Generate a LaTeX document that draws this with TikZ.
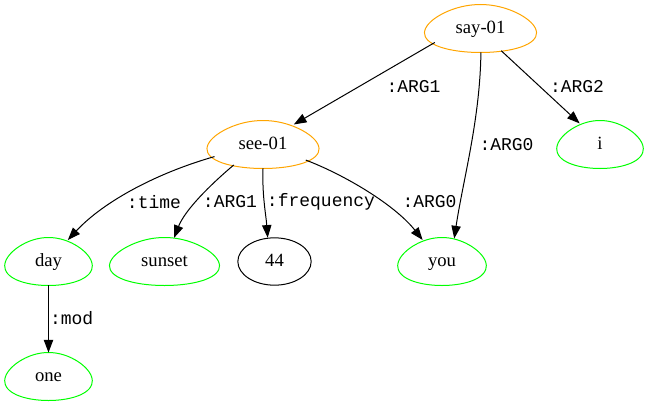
\documentclass[tikz,border=0pt]{standalone}
\usepackage{fontspec}
\setmainfont{Liberation Serif}
\newfontfamily\labfont{Liberation Mono}
\usetikzlibrary{arrows.meta,shapes.geometric}
\definecolor{amrorange}{RGB}{255,165,0}
\definecolor{amrgreen}{RGB}{0,255,0}
\newcommand\eggline[4]{\draw[#2, line width=0.75pt, shift={(#1.center)}] plot[smooth cycle, domain=0:350, samples=36, variable=\t] ({#3*cos(\t)*(1-0.2*sin(\t))},{-#4*sin(\t)});}
\begin{document}
\begin{tikzpicture}[x=0.75pt,y=-0.75pt,
  nd/.style={ellipse, inner sep=0pt, minimum height=35.5pt, text height=9.5pt, text depth=2.5pt, font=\fontsize{14}{16}\selectfont},
  lab/.style={inner sep=0pt, font=\labfont\fontsize{13.5}{15}\selectfont},
  edge/.style={line width=0.75pt, -{Triangle[length=9.5pt,width=7pt]}}
]
\useasboundingbox (0,0) rectangle (649,407);
% nodes
\node[nd, minimum width=84pt] (say) at (480.5,28.5) {say-01};
\node[nd, minimum width=84pt] (see) at (263,144.5) {see-01};
\node[nd, minimum width=64.5pt] (i) at (600,144.5) {i};
\node[nd, minimum width=65pt] (day) at (48.5,261.5) {day};
\node[nd, minimum width=82pt] (sunset) at (164.5,261.5) {sunset};
\node[nd, draw, line width=0.75pt, minimum width=55pt] (n44) at (274.5,261.5) {44};
\node[nd, minimum width=66pt] (you) at (442,261.5) {you};
\node[nd, minimum width=65pt] (one) at (48.5,376.5) {one};
% egg outlines
\eggline{say}{amrorange}{55}{24}
\eggline{see}{amrorange}{55}{24}
\eggline{i}{amrgreen}{42.5}{24}
\eggline{day}{amrgreen}{43}{24}
\eggline{sunset}{amrgreen}{54}{24}
\eggline{you}{amrgreen}{43.5}{24}
\eggline{one}{amrgreen}{43}{24}
% edges
\draw[edge] (say.197) -- (see.33);
\draw[edge] (say.-47) -- (i.134);
\draw[edge] (say.-89) .. controls (480,120) and (463,180) .. (you.62);
\draw[edge] (see.194) .. controls (160,172) and (105,200) .. (day.48);
\draw[edge] (see.215) .. controls (210,185) and (185,210) .. (sunset.68);
\draw[edge] (see.-90) .. controls (262,195) and (266,215) .. (n44.106);
\draw[edge] (see.-20) .. controls (345,175) and (395,205) .. (you.132);
\draw[edge] (day.south) -- (one.north);
% labels
\node[lab] (l1) at (413.5,87) {:ARG1};
\node[lab] (l2) at (577,87) {:ARG2};
\node[lab] (l3) at (506.5,145) {:ARG0};
\node[lab] (l4) at (154,202) {:time};
\node[lab] (l5) at (230,202) {:ARG1};
\node[lab] (l6) at (321,202) {:frequency};
\node[lab] (l7) at (429.5,202) {:ARG0};
\node[lab] (l8) at (71.7,318) {:mod};
\end{tikzpicture}
\end{document}
